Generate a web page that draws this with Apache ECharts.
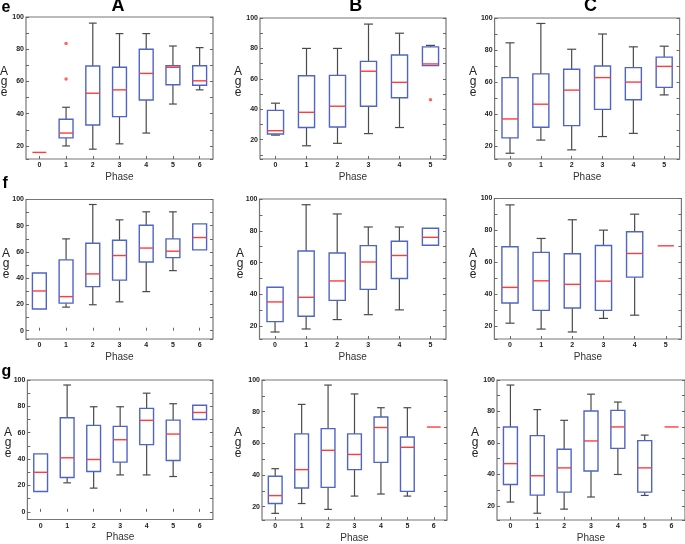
<!DOCTYPE html>
<html>
<head>
<meta charset="utf-8">
<script src="https://cdn.jsdelivr.net/npm/echarts@6/dist/echarts.min.js"></script>
<style>html,body{margin:0;padding:0;background:#fff;}#c{width:685px;height:544px;}</style>
</head>
<body>
<div id="c"></div>
<script>
// Category labels (Phase)
const cats7 = ['0','1','2','3','4','5','6'];
const cats6 = ['0','1','2','3','4','5'];

// Box stats per phase: [lowWhisker, q1, median, q3, highWhisker]
const eA = [[16,16,16,16,16],[20,25,28,36.6,44],[18,33,52.7,69.6,96.2],[21.3,38.2,54.8,68.8,89.7],[28,48.5,65,80,89.7],[46,58,68.8,69.8,82],[54.8,57.7,60.4,69.8,81]];
const eB = [[23,23.7,25.9,39.3,44],[16,28,38,62,80],[17.6,28.3,42,62.3,80],[24,42,65,71.5,96],[28,47.6,57.7,75.7,90],[68.7,68.7,69.8,81,82]];
const eC = [[15.6,25.2,37,62.8,84.5],[23.8,31.8,46.2,65.1,96.6],[17.7,32.8,55,68,80.5],[26,43,62.8,70,90],[28,49,60,69,82],[52,56.7,69.8,75.6,82.4]];
const fA = [[16.6,16.6,30.3,44,44],[18,21,26,54,70],[19.8,33.6,43.3,66.7,96.2],[22,38.6,57.3,69,84.5],[29.8,52.4,63,80.4,90.6],[45.8,55.7,60.6,70,90.6],[61.6,61.6,71,81.4,81.4]];
const fB = [[16.4,22.9,35.3,44.5,44.5],[18.3,26.3,38.2,67.3,96.4],[24.2,36.3,48.5,66.1,90.6],[27.3,43.2,60.4,70.7,82.4],[30.3,50,64.5,73.4,82.4],[70.9,70.9,75.9,81.6,81.6]];
const fC = [[22,34.6,44.4,69.8,96],[18.3,30,48.5,66.3,75],[16.5,31.5,46.3,65.4,86.7],[25,30,48.3,70.6,80.2],[27,50.8,65.6,79.2,90.2],[70.4,70.4,70.4,70.4,70.4]];
const gA = [[15.4,15.4,30,44,44],[22,26,41,71.4,96.2],[18,30.6,39.7,65.6,79.7],[28,37.7,54.7,64.8,79.7],[28,51,69.4,78.5,90],[26.8,39,59,69.6,82],[70,70,75.4,80.8,80.8]];
const gB = [[15.8,22,27,39.2,44],[22,31.8,43.4,66,84.6],[18.3,32.2,55.6,69.3,96.8],[26.7,43.4,53,66,91.2],[28,48,70,76.6,82.5],[26.7,29.7,57.5,64,82.5],[70.3,70.3,70.3,70.3,70.3]];
const gC = [[22.5,33.6,46.9,70.2,96.8],[15.4,26.9,39.2,64.7,81.2],[18,28.8,44.2,56,74.4],[25.7,42.2,61.3,80.3,91],[40,56.6,70.2,80.7,86],[26.7,28.8,44.2,61.5,65],[70.2,70.2,70.2,70.2,70.2]];

// Outliers: [phase, age]
const eAout = [[1,83.5],[1,61.5]];
const eBout = [[5,46.3]];

// Y axis ranges (min) per panel
const yMins = {eA:11.9, eB:7.3, eC:12, fA:-6.3, fB:12, fC:12.1, gA:-5.8, gB:11.6, gC:11.1};

const panels = [
  {k:'eA', d:eA, out:eAout, cats:cats7, g:{left:26, top:17, width:187, height:142}},
  {k:'eB', d:eB, out:eBout, cats:cats6, g:{left:260, top:18, width:186, height:141}},
  {k:'eC', d:eC, out:[], cats:cats6, g:{left:494.6, top:18, width:185, height:141}},
  {k:'fA', d:fA, out:[], cats:cats7, g:{left:26, top:199.5, width:187, height:139.5}},
  {k:'fB', d:fB, out:[], cats:cats6, g:{left:259.5, top:199, width:186.5, height:140}},
  {k:'fC', d:fC, out:[], cats:cats6, g:{left:494.4, top:198.5, width:187, height:140.5}},
  {k:'gA', d:gA, out:[], cats:cats7, g:{left:27.4, top:380, width:185.5, height:139.5}},
  {k:'gB', d:gB, out:[], cats:cats7, g:{left:262, top:380, width:185, height:140}},
  {k:'gC', d:gC, out:[], cats:cats7, g:{left:497, top:380, width:190, height:140}}
];

const BOX = '#5064c8', MED = '#ff3c3c', WHI = '#4a4a4a', FRAME = '#777777';

function renderBox(params, api) {
  const x = api.value(0);
  const lo = api.value(1), q1 = api.value(2), md = api.value(3), q3 = api.value(4), hi = api.value(5);
  const band = api.size([1, 0])[0];
  const bw = band * 0.52, cw = bw * 0.56;
  const pLo = api.coord([x, lo]), pQ1 = api.coord([x, q1]), pMd = api.coord([x, md]), pQ3 = api.coord([x, q3]), pHi = api.coord([x, hi]);
  const cx = pMd[0];
  const ws = {stroke: WHI, lineWidth: 1.2};
  const ch = [];
  if (lo < q1) {
    ch.push({type:'line', shape:{x1:cx, y1:pQ1[1], x2:cx, y2:pLo[1]}, style:ws});
    ch.push({type:'line', shape:{x1:cx-cw/2, y1:pLo[1], x2:cx+cw/2, y2:pLo[1]}, style:ws});
  }
  if (hi > q3) {
    ch.push({type:'line', shape:{x1:cx, y1:pQ3[1], x2:cx, y2:pHi[1]}, style:ws});
    ch.push({type:'line', shape:{x1:cx-cw/2, y1:pHi[1], x2:cx+cw/2, y2:pHi[1]}, style:ws});
  }
  if (q3 > q1) {
    ch.push({type:'rect', shape:{x:cx-bw/2, y:pQ3[1], width:bw, height:pQ1[1]-pQ3[1]}, style:{fill:'none', stroke:BOX, lineWidth:1.4}});
  }
  ch.push({type:'line', shape:{x1:cx-bw/2, y1:pMd[1], x2:cx+bw/2, y2:pMd[1]}, style:{stroke:MED, lineWidth:1.4}});
  return {type:'group', children:ch};
}

const grids = [], xAxes = [], yAxes = [], series = [];
panels.forEach((p, i) => {
  grids.push(Object.assign({show:true, borderColor:FRAME, borderWidth:1.2, backgroundColor:'transparent'}, p.g));
  xAxes.push({
    type:'category', gridIndex:i, data:p.cats, boundaryGap:true,
    axisLine:{show:false},
    axisTick:{show:true, inside:true, alignWithLabel:true, length:3, lineStyle:{color:'#666'}},
    axisLabel:{fontSize:7, fontWeight:'bold', color:'#222', margin:3, interval:0, fontFamily:'Liberation Sans, Arial, sans-serif'},
    splitLine:{show:false},
    name:'Phase', nameLocation:'middle', nameGap:13,
    nameTextStyle:{fontSize:10, color:'#333', fontFamily:'Liberation Sans, Arial, sans-serif'}
  });
  const yBase = {
    type:'value', gridIndex:i, min:yMins[p.k], max:100, splitNumber:5,
    axisLine:{show:false},
    axisTick:{show:true, inside:true, length:3, lineStyle:{color:'#666'}},
    minorTick:{show:true, splitNumber:2, length:3, lineStyle:{color:'#666'}},
    splitLine:{show:false}, minorSplitLine:{show:false}
  };
  yAxes.push(Object.assign({}, yBase, {position:'left',
    axisLabel:{fontSize:7, fontWeight:'bold', color:'#222', margin:2, showMinLabel:false, showMaxLabel:true, fontFamily:'Liberation Sans, Arial, sans-serif'}}));
  yAxes.push(Object.assign({}, yBase, {position:'right', axisLabel:{show:false}}));
  series.push({
    type:'custom', xAxisIndex:i, yAxisIndex:2*i,
    renderItem:renderBox,
    encode:{x:0, y:[1,2,3,4,5]},
    data:p.d.map((s, j) => [j].concat(s)),
    z:3
  });
  if (p.out.length) {
    series.push({
      type:'scatter', xAxisIndex:i, yAxisIndex:2*i, data:p.out,
      symbol:'circle', symbolSize:3.5, itemStyle:{color:MED}, z:4
    });
  }
});

function txt(text, x, y, font, align, base, extra) {
  return {type:'text', x:x, y:y, silent:true, style:Object.assign({text:text, font:font, fill:'#000', textAlign:align, textVerticalAlign:base, align:align, verticalAlign:base}, extra||{})};
}
const FF = 'Liberation Sans, Arial, sans-serif';
const graphics = [
  txt('A', 118, 15.5, 'bold 18px ' + FF, 'center', 'bottom'),
  txt('B', 355.7, 15.5, 'bold 18px ' + FF, 'center', 'bottom'),
  txt('C', 590.5, 15.5, 'bold 18px ' + FF, 'center', 'bottom'),
  txt('e', 1.5, 16, 'bold 16px ' + FF, 'left', 'bottom'),
  txt('f', 2.5, 192, 'bold 16px ' + FF, 'left', 'bottom'),
  txt('g', 1.5, 380, 'bold 16px ' + FF, 'left', 'bottom')
];
// "Age" label stacked vertically, one letter per line (centre of the middle letter)
const ageAt = [[4,82],[238,82],[473,82],[6,264],[240,264],[473,264],[8,443],[238,443],[475,443]];
const ageLetters = ['A','g','e'];
const ageDy = [-10.5, -0.5, 10.5];
ageAt.forEach(a => {
  ageLetters.forEach((ch, j) => {
    graphics.push(txt(ch, a[0], a[1] + ageDy[j], '12px ' + FF, 'center', 'middle', {fill:'#222'}));
  });
});

const chart = echarts.init(document.getElementById('c'), null, {renderer:'canvas'});
chart.setOption({
  animation:false,
  backgroundColor:'#fff',
  grid:grids, xAxis:xAxes, yAxis:yAxes, series:series,
  graphic:graphics
});
</script>
</body>
</html>
